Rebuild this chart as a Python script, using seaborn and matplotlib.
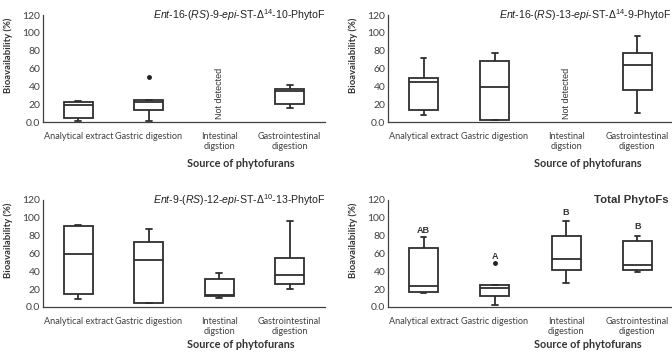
import numpy as np
import pandas as pd
import seaborn as sns
import matplotlib as mpl
import matplotlib.pyplot as plt

# ---------------- data ----------------
categories = ["Analytical extract", "Gastric digestion",
              "Intestinal digestion", "Gastrointestinal digestion"]
tick_labels_top = ["Analytical extract", "Gastric digestion",
                   "Intestinal\ndigstion", "Gastrointestinal\ndigestion"]
tick_labels_total = ["Analytical extract", "Gastric digestion",
                     "Intestinal\ndigestion", "Gastrointestinal\ndigestion"]

# values per group (min, q1, median, q3, max / outlier)
p1_analytical = [1, 4.5, 19, 22, 23.5]
p1_gastric = [1, 13, 22, 25, 51]
p1_intestinal = []
p1_gastrointestinal = [16, 20.5, 35, 37.5, 42]

p2_analytical = [8, 13, 45, 49, 72]
p2_gastric = [2, 2, 39, 68, 77]
p2_intestinal = []
p2_gastrointestinal = [10, 36, 64, 77, 96]

p3_analytical = [9, 15, 59, 91, 92]
p3_gastric = [4.5, 5, 53, 73, 87]
p3_intestinal = [10.5, 12, 14, 31, 38]
p3_gastrointestinal = [20, 26, 36, 55, 96]

p4_analytical = [16, 17, 24, 66, 78]
p4_gastric = [2, 12, 21, 25, 49]
p4_intestinal = [27, 41, 54, 80, 97]
p4_gastrointestinal = [39, 42, 47, 74, 80]

titles = [r"$\mathit{Ent}$-16-($\mathit{RS}$)-9-$\mathit{epi}$-ST-Δ$^{14}$-10-PhytoF",
          r"$\mathit{Ent}$-16-($\mathit{RS}$)-13-$\mathit{epi}$-ST-Δ$^{14}$-9-PhytoF",
          r"$\mathit{Ent}$-9-($\mathit{RS}$)-12-$\mathit{epi}$-ST-Δ$^{10}$-13-PhytoF",
          "Total PhytoFs"]

letters_total = ["AB", "A", "B", "B"]
letters_y = [86, 57, 106, 90]

ytick_vals = [0, 20, 40, 60, 80, 100, 120]
ytick_labels = ["0.0", "20", "40", "60", "80", "100", "120"]

panels = [
    [p1_analytical, p1_gastric, p1_intestinal, p1_gastrointestinal],
    [p2_analytical, p2_gastric, p2_intestinal, p2_gastrointestinal],
    [p3_analytical, p3_gastric, p3_intestinal, p3_gastrointestinal],
    [p4_analytical, p4_gastric, p4_intestinal, p4_gastrointestinal],
]

# ---------------- style ----------------
sns.set_style("white")
plt.rcParams['font.family'] = ['Lato', 'DejaVu Sans']
plt.rcParams['mathtext.fontset'] = 'custom'
plt.rcParams['mathtext.rm'] = 'Liberation Sans'
plt.rcParams['mathtext.it'] = 'Liberation Sans:italic'
plt.rcParams['mathtext.bf'] = 'Liberation Sans:bold'

fig = plt.figure(figsize=(6.72, 3.54), dpi=100)
W, H = 672, 354
rects = [(43, 15, 325, 122), (388, 15, 673, 122),
         (43, 200, 325, 307), (388, 200, 673, 307)]

line_col = "#2e2e2e"
for i, (vals, rect) in enumerate(zip(panels, rects)):
    l, t, r, b = rect
    ax = fig.add_axes([l / W, 1 - b / H, (r - l) / W, (b - t) / H])
    src, v = [], []
    for cat, arr in zip(categories, vals):
        src += [cat] * len(arr)
        v += list(arr)
    df = pd.DataFrame({"source": src, "value": v})
    sns.boxplot(data=df, x="source", y="value", order=categories, ax=ax,
                width=0.41, whis=1.5, color="white", linecolor=line_col,
                linewidth=1.3, capwidths=0.08,
                flierprops=dict(marker="o", markersize=2.5,
                                markerfacecolor="#222222",
                                markeredgecolor="#222222"))
    ax.set_xlim(-0.5, 3.5)
    ax.set_ylim(0, 120)
    ax.set_yticks(ytick_vals)
    ax.set_yticklabels(ytick_labels, fontsize=7.5, color="#404040")
    ax.set_xticks(range(4))
    ax.set_xticklabels(tick_labels_total if i == 3 else tick_labels_top,
                       fontsize=6.6, color="#404040", linespacing=1.25)
    ax.tick_params(axis="both", length=0)
    ax.tick_params(axis="x", pad=7)
    ax.tick_params(axis="y", pad=2)
    for s in ["top", "right"]:
        ax.spines[s].set_visible(False)
    for s in ["left", "bottom"]:
        ax.spines[s].set_color("#404040")
        ax.spines[s].set_linewidth(0.9)
    ax.set_xlabel("")
    ax.set_ylabel("Bioavailability (%)", fontsize=6.8, fontweight="bold",
                  color="#333333")
    ax.yaxis.set_label_coords(-30 / (r - l), 0.62)
    ax.text(0.70, -0.39 if i < 2 else -0.355, "Source of phytofurans",
            transform=ax.transAxes, ha="center", va="center",
            fontsize=7.8, fontweight="bold", color="#333333")
    if i < 3:
        tx = 1.0 if i != 1 else 0.995
        ax.text(tx, 1.0, titles[i], transform=ax.transAxes, ha="right",
                va="center", fontsize=7.6, family="Liberation Sans",
                color="#222222")
    else:
        ax.text(0.985, 1.0, titles[i], transform=ax.transAxes, ha="right",
                va="center", fontsize=8.2, fontweight="bold",
                family="Liberation Sans", color="#333333")
        for k, (lt, ly) in enumerate(zip(letters_total, letters_y)):
            ax.text(k, ly, lt, ha="center", va="center", fontsize=6.5,
                    fontweight="bold", family="Liberation Sans",
                    color="#333333")
    if i < 2:
        ax.text(2, 3, "Not detected", rotation=90, ha="center", va="bottom",
                fontsize=6.5, family="Liberation Sans", color="#333333")

fig.savefig("out.png", dpi=100)
